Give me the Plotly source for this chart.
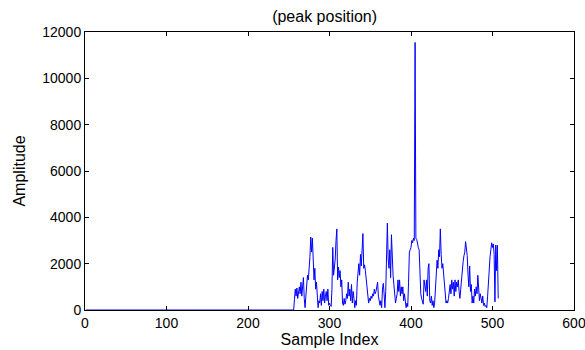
import plotly.graph_objects as go

# Sample indices 1..255 are zero (flat baseline)
baseline = [0] * 255

# Amplitudes for sample indices 256..507
active = [
    0, 450, 900, 600, 950, 500, 800, 1000, 700, 1200,
    600, 900, 1400, 500, 100, 600, 1000, 1500, 1300, 1700,
    2300, 3150, 2500, 3100, 2000, 1300, 1800, 900, 1200, 300,
    100, 400, 300, 700, 200, 800, 400, 900, 300, 600,
    800, 400, 900, 200, 300, 200, 150, 900, 2700, 1500,
    1800, 2200, 3000, 3500, 1300, 1850, 1400, 1700, 1000, 1300,
    300, 200, 500, 250, 400, 700, 500, 1200, 600, 900,
    400, 1100, 300, 800, 500, 100, 400, 200, 1200, 1800,
    2000, 1500, 2400, 1900, 2600, 3300, 1800, 1950, 1700, 1300,
    900, 600, 300, 500, 400, 600, 500, 700, 600, 900,
    700, 800, 1000, 1200, 600, 400, 200, 400, 100, 900,
    1150, 700, 100, 800, 1850, 3750, 2200, 1800, 2600, 1400,
    3250, 1900, 1500, 1100, 600, 300, 500, 700, 1300, 800,
    1300, 600, 1000, 700, 1000, 400, 700, 200, 100, 300,
    150, 1200, 2500, 2600, 2700, 3000, 2900, 3100, 3000, 11550,
    3100, 3050, 2800, 2700, 2600, 1000, 700, 500, 300, 250,
    1300, 1100, 800, 1300, 600, 1800, 2000, 400, 300, 600,
    200, 400, 100, 300, 1000, 1500, 2150, 1800, 2600, 2300,
    3500, 2400, 1800, 2000, 1600, 1300, 800, 300, 400, 300,
    500, 800, 1100, 700, 1300, 900, 1200, 600, 1300, 800,
    1200, 1000, 1300, 800, 500, 900, 1400, 2000, 2100, 2350,
    2500, 2950, 2700, 2350, 1500, 1000, 1900, 800, 1100, 300,
    600, 300, 900, 600, 1000, 700, 1500, 800, 400, 700,
    500, 300, 600, 200, 300, 150, 200, 100, 600, 1200,
    2000, 2300, 2600, 2900, 2700, 2850, 2400, 350, 2800, 1700,
    2800, 500,
]

amplitude = baseline + active
sample_index = list(range(1, len(amplitude) + 1))

x_ticks = [0, 100, 200, 300, 400, 500, 600]
y_ticks = [0, 2000, 4000, 6000, 8000, 10000, 12000]
x_tick_labels = [str(v) for v in x_ticks]
y_tick_labels = [str(v) for v in y_ticks]

font_family = "Liberation Sans, Arial, sans-serif"
tick_font = dict(family=font_family, size=14, color="black")
label_font = dict(family=font_family, size=16, color="black")

fig = go.Figure(
    go.Scatter(
        x=sample_index,
        y=amplitude,
        mode="lines",
        line=dict(color="#0000FF", width=1),
        hoverinfo="skip",
    )
)

axis_common = dict(
    showline=True,
    linecolor="black",
    linewidth=1,
    mirror="allticks",
    ticks="inside",
    ticklen=4,
    tickcolor="black",
    tickwidth=1,
    showgrid=False,
    zeroline=False,
    automargin=False,
    ticklabeloverflow="allow",
    tickfont=tick_font,
)

W, H = 585, 350

fig.update_layout(
    width=W,
    height=H,
    paper_bgcolor="white",
    plot_bgcolor="white",
    margin=dict(l=85, r=11, t=32, b=40, autoexpand=False),
    showlegend=False,
    title=dict(
        text="(peak position)",
        x=0.49,
        xanchor="center",
        xref="paper",
        y=1 - 16 / H,
        yanchor="middle",
        font=label_font,
    ),
    xaxis=dict(
        range=[0, 600],
        tickvals=x_ticks,
        ticktext=x_tick_labels,
        title=dict(text="Sample Index", font=label_font, standoff=4),
        **axis_common,
    ),
    yaxis=dict(
        range=[0, 12000],
        tickvals=y_ticks,
        ticktext=y_tick_labels,
        title=dict(text="Amplitude", font=label_font, standoff=12),
        **axis_common,
    ),
)

# Remove the default page margin so the 585x350 figure fills the window exactly
fig.write_html(
    "out.html",
    config={"displayModeBar": False, "staticPlot": True},
    post_script="document.body.style.margin='0';document.body.style.overflow='hidden';",
)
